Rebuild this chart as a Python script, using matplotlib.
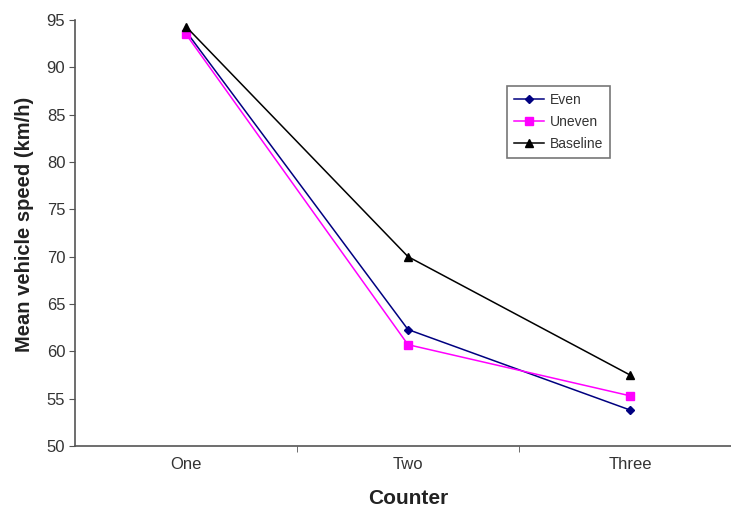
import matplotlib.pyplot as plt

plt.rcParams['font.family'] = ['Liberation Sans', 'DejaVu Sans']

# DATA
counters = ["One", "Two", "Three"]
even = [93.8, 62.3, 53.8]
uneven = [93.5, 60.7, 55.3]
baseline = [94.3, 70.0, 57.5]

fig = plt.figure(figsize=(7.31, 5.12), dpi=100)
ax = fig.add_axes([0.1026, 0.129, 0.911, 0.832])

x = range(len(counters))
ax.plot(x, even, color="#000080", marker="D", markersize=4.5, linewidth=1.1, label="Even")
ax.plot(x, uneven, color="#ff00ff", marker="s", markersize=6, linewidth=1.1, label="Uneven")
ax.plot(x, baseline, color="black", marker="^", markersize=6, linewidth=1.1, label="Baseline")

ax.set_xlim(-0.5, 2.5)
ax.set_ylim(50, 95)
ax.set_yticks(range(50, 96, 5))
ax.set_xticks(list(x))
ax.set_xticklabels(counters)
ax.set_xticks([0.5, 1.5], minor=True)
ax.tick_params(axis="x", which="major", length=0, pad=8, labelsize=12, labelcolor="#333333")
ax.tick_params(axis="x", which="minor", length=4, direction="out", color="#555555")
ax.tick_params(axis="y", length=4, direction="out", color="#555555", labelsize=12,
               labelcolor="#333333", pad=3)

for side in ("top", "right"):
    ax.spines[side].set_visible(False)
for side in ("left", "bottom"):
    ax.spines[side].set_color("#555555")
    ax.spines[side].set_linewidth(1.2)

ax.set_xlabel("Counter", fontsize=15, fontweight="bold", labelpad=12, color="#222222")
ax.set_ylabel("Mean vehicle speed (km/h)", fontsize=14.5, fontweight="bold",
              color="#222222")
ax.yaxis.set_label_coords(-0.062, 0.52)

leg = ax.legend(loc="upper left", bbox_to_anchor=(0.638, 0.862), fontsize=10,
                frameon=True, fancybox=False, edgecolor="#555555",
                handlelength=2.2, borderpad=0.5, labelspacing=0.6, handletextpad=0.4)
leg.get_frame().set_linewidth(1.2)
for t in leg.get_texts():
    t.set_color("#333333")

fig.savefig("out.png", dpi=100)
